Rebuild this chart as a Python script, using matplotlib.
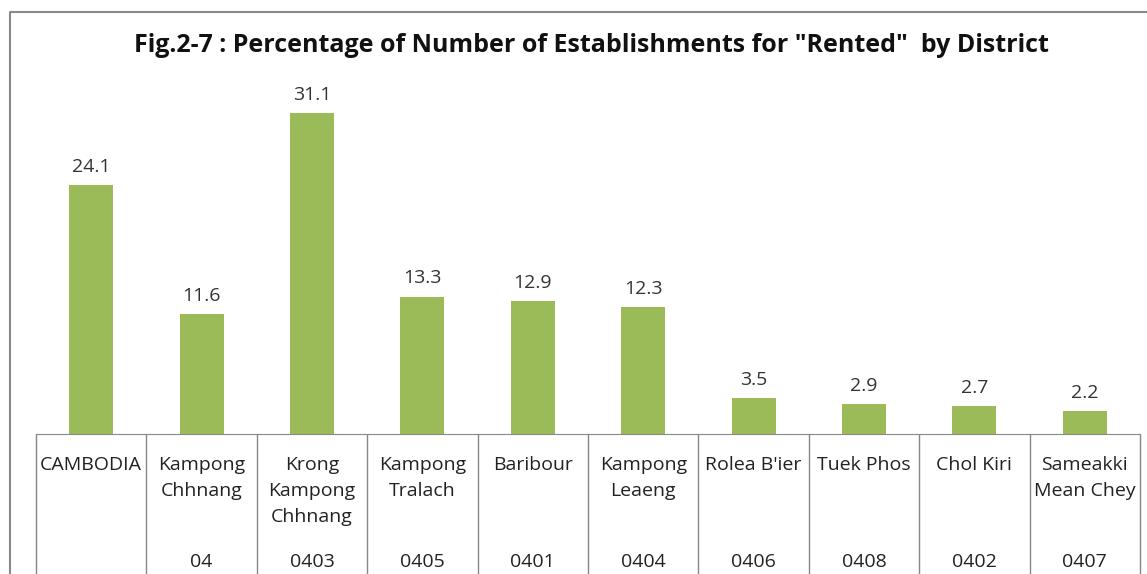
import matplotlib.pyplot as plt
from matplotlib.lines import Line2D

districts = ["CAMBODIA", "Kampong\nChhnang", "Krong\nKampong\nChhnang", "Kampong\nTralach",
             "Baribour", "Kampong\nLeaeng", "Rolea B'ier", "Tuek Phos", "Chol Kiri",
             "Sameakki\nMean Chey"]
codes = ["", "04", "0403", "0405", "0401", "0404", "0406", "0408", "0402", "0407"]
rented = [24.1, 11.6, 31.1, 13.3, 12.9, 12.3, 3.5, 2.9, 2.7, 2.2]

plt.rcParams['font.family'] = ['Open Sans', 'DejaVu Sans']

W, H = 1147, 574
px = 10.32  # pixels per percent
fig = plt.figure(figsize=(W / 100, H / 100), dpi=100)
ax = fig.add_axes([36 / W, (H - 434) / H, (1140 - 36) / W, (434 - 80) / H])

x = range(len(rented))
ax.bar(x, rented, width=0.4, color='#9BBB59')
for i, v in enumerate(rented):
    ax.text(i, v + 0.9, f"{v:.1f}", ha='center', va='bottom', fontsize=14, color='#333333')

ax.set_xlim(-0.5, len(rented) - 0.5)
ax.set_ylim(0, 354 / px)
for s in ['left', 'right', 'top']:
    ax.spines[s].set_visible(False)
ax.spines['bottom'].set_color('#888888')
ax.set_xticks([])
ax.set_yticks([])

# table-like category area under the axis
edges = [i - 0.5 for i in range(len(rented) + 1)]
ax.vlines(edges, -14, 0, colors='#888888', lw=1, clip_on=False)
for i, (name, code) in enumerate(zip(districts, codes)):
    for j, line in enumerate(name.split("\n")):
        ax.text(i, -(31 + 26 * j) / px, line, ha='center', va='center', fontsize=14,
                color='#222222', clip_on=False)
    ax.text(i, -128 / px, code, ha='center', va='center', fontsize=14, color='#222222',
            clip_on=False)

fig.text(0.516, 1 - 45 / H, 'Fig.2-7 : Percentage of Number of Establishments for "Rented"  by District',
         ha='center', va='center', fontsize=18, fontweight='bold', color='#111111')

# outer chart frame (left and top)
fig.add_artist(Line2D([10 / W, 10 / W, 1], [0, 1 - 12 / H, 1 - 12 / H],
                      transform=fig.transFigure, color='#888888', lw=1.5))

fig.savefig('out.png', dpi=100)
